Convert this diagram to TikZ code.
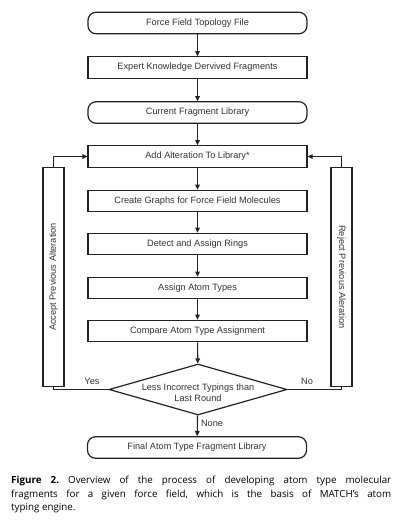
\documentclass[tikz,border=0pt]{standalone}
\usepackage{fontspec}
\setmainfont{Liberation Sans}
\newfontfamily\capfont{Open Sans}
\usetikzlibrary{shapes.geometric,arrows.meta}
\definecolor{ln}{HTML}{222222}
\definecolor{tx}{HTML}{333333}
\frenchspacing
\begin{document}
\begin{tikzpicture}[x=1pt,y=-1pt,
  every node/.style={font=\fontsize{9.2}{11}\selectfont, text=tx},
  stepbox/.style={draw=ln, line width=1.2pt, minimum width=219pt, minimum height=21.5pt, inner sep=0pt},
  pillbox/.style={stepbox, rounded corners=8pt},
  sidebox/.style={draw=ln, line width=1.2pt, minimum width=21pt, minimum height=219pt, inner sep=0pt},
  dia/.style={diamond, draw=ln, line width=1.2pt, minimum width=178pt, minimum height=51pt, inner sep=0pt, aspect=3.5},
  arr/.style={draw=ln, line width=1.1pt, -{Triangle[length=5pt,width=4.5pt]}},
  con/.style={draw=ln, line width=1.1pt}]
\useasboundingbox (0,0) rectangle (400,525);
\node[pillbox] (topo) at (197.5,23) {Force Field Topology File};
\node[stepbox] (expert) at (197.5,67.5) {Expert Knowledge Dervived Fragments};
\node[pillbox] (curr) at (197.5,112.5) {Current Fragment Library};
\node[stepbox] (add) at (197.5,156.5) {Add Alteration To Library*};
\node[stepbox] (graphs) at (197.5,201) {Create Graphs for Force Field Molecules};
\node[stepbox] (rings) at (197.5,244) {Detect and Assign Rings};
\node[stepbox] (types) at (197.5,288) {Assign Atom Types};
\node[stepbox] (comp) at (197.5,331) {Compare Atom Type Assignment};
\node[dia] (dec) at (198,389.5) {};
\node[align=center, font=\fontsize{9.2}{11}\selectfont] (dectext) at (198,392.5) {Less Incorrect Typings than\\Last Round};
\node[pillbox] (final) at (197,447.5) {Final Atom Type Fragment Library};
\node[sidebox] (acc) at (53.5,277) {\rotatebox{90}{Accept Previous Alteration}};
\node[sidebox] (rej) at (341.5,277) {\rotatebox{-90}{Reject Previous Aleration}};
\draw[arr] (topo) -- (expert);
\draw[arr] (expert) -- (curr);
\draw[arr] (curr) -- (add);
\draw[arr] (add) -- (graphs);
\draw[arr] (graphs) -- (rings);
\draw[arr] (rings) -- (types);
\draw[arr] (types) -- (comp);
\draw[arr] (comp) -- (dec);
\draw[arr] (dec) -- (final);
\draw[con] (dec.west) -| (acc.south);
\draw[arr] (acc.north) |- (add.west);
\draw[con] (dec.east) -| (rej.south);
\draw[arr] (rej.north) |- (add.east);
\node (yes) at (92,381) {Yes};
\node (no) at (307,381) {No};
\node (none) at (212,423) {None};
\node[anchor=north west, inner sep=0pt, text=black, align=justify, text width=380pt,
  font=\capfont\fontsize{9.8}{13.3}\selectfont] (cap) at (11,476)
  {\frenchspacing{\bfseries Figure 2.} Overview of the process of developing atom type molecular\linebreak
   fragments for a given force field, which is the basis of MATCH’s atom\linebreak
   typing engine.};
\end{tikzpicture}
\end{document}
